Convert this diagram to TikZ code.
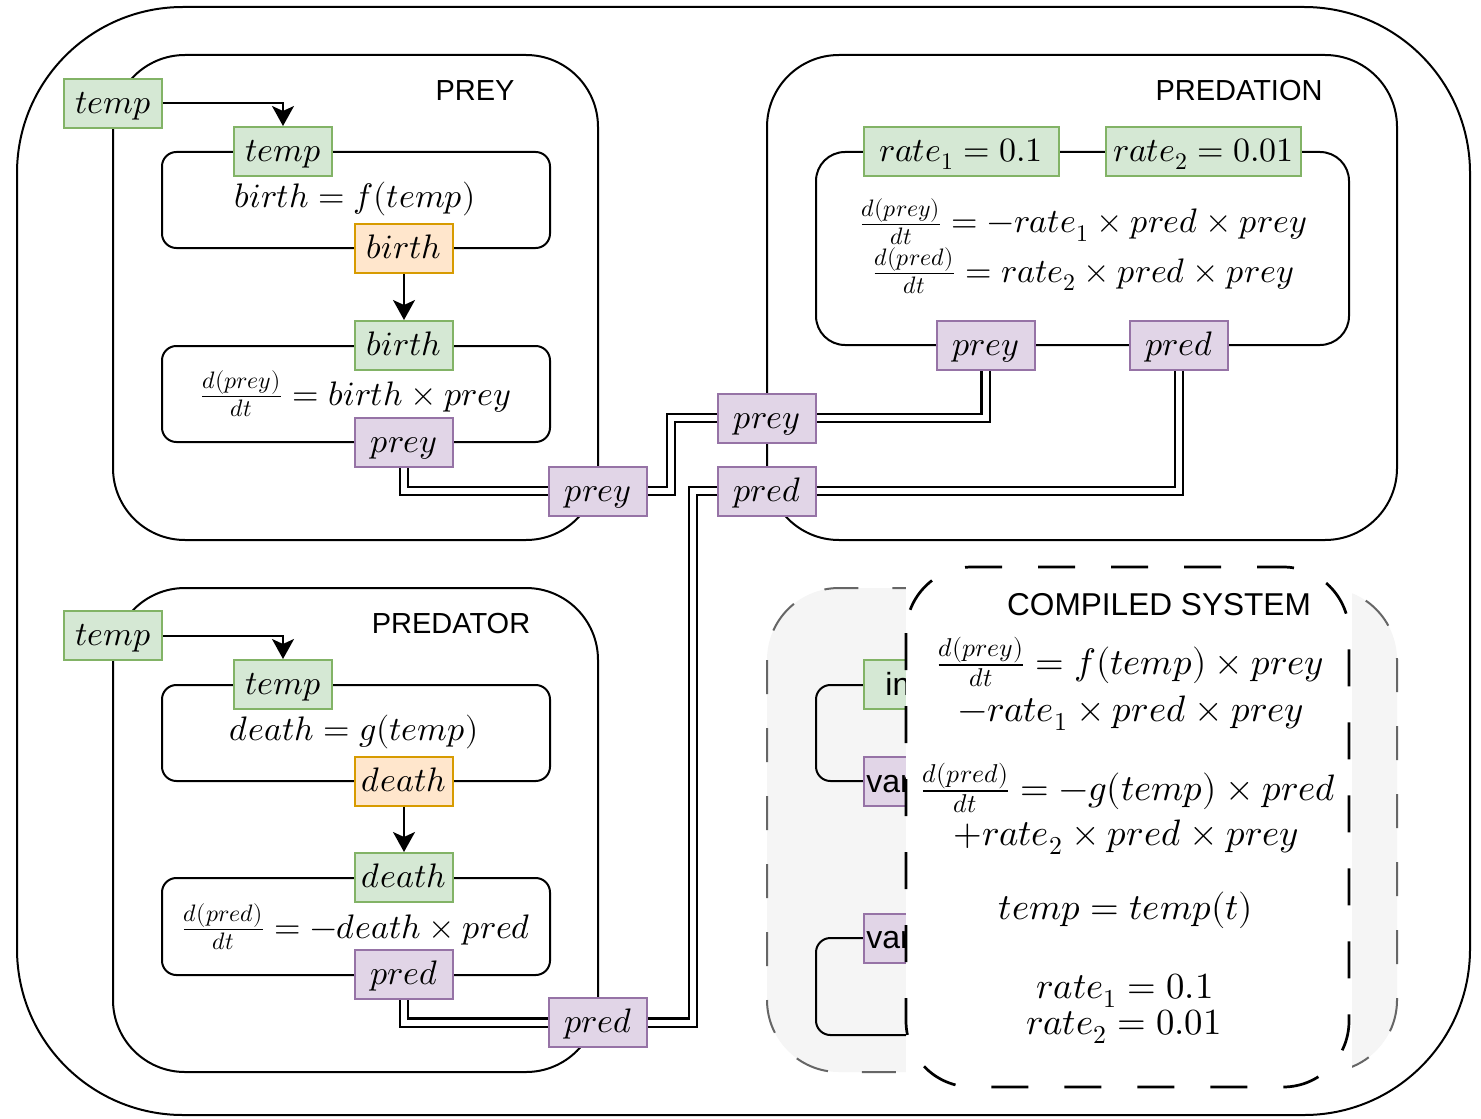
\documentclass[tikz,border=0pt]{standalone}
\usepackage{fontspec}
\usepackage{unicode-math}
\newfontfamily\lsans{Liberation Sans}
\usetikzlibrary{arrows.meta}

\definecolor{gfill}{HTML}{D5E8D4}
\definecolor{gline}{HTML}{82B366}
\definecolor{ofill}{HTML}{FFE6CC}
\definecolor{oline}{HTML}{D79B00}
\definecolor{vfill}{HTML}{E1D5E7}
\definecolor{vline}{HTML}{9673A6}
\definecolor{greyfill}{HTML}{F5F5F5}
\definecolor{greyline}{HTML}{666666}

\begin{document}
\begin{tikzpicture}[x=0.5pt,y=-0.5pt,
  boxline/.style={draw=black, line width=1pt},
  portbox/.style={draw, line width=1pt, minimum width=49pt, minimum height=24.5pt,
    inner sep=0pt, text height=11pt, text depth=1pt, font=\fontsize{17}{20}\selectfont},
  gport/.style={portbox, draw=gline, fill=gfill},
  oport/.style={portbox, draw=oline, fill=ofill},
  vport/.style={portbox, draw=vline, fill=vfill},
  dlink/.style={draw=black, line width=1.2pt, double=white, double distance=3pt},
  flow/.style={draw=black, line width=1pt, -{Stealth[length=10pt,width=11pt,inset=2.5pt]}},
  boxtitle/.style={inner sep=0pt, font=\lsans\fontsize{14.5}{17}\selectfont},
  eqn/.style={inner sep=0pt, anchor=base, font=\fontsize{17}{20}\selectfont},
  ceqn/.style={inner sep=0pt, anchor=base, font=\fontsize{18.4}{22}\selectfont},
  upper/.style={text depth=0pt},
  lower/.style={text height=9pt},
  hidden/.style={inner sep=0pt, anchor=base west, font=\lsans\fontsize{16}{19}\selectfont},
]
\useasboundingbox (0,0) rectangle (1481,1118);
\fill[white] (0,0) rectangle (1481,1118);

% outer system frame
\draw[boxline, rounded corners=83pt] (17,7) rectangle (1470,1115);

% modules
\draw[boxline, rounded corners=36pt] (113,55) rectangle (598,540);
\draw[boxline, rounded corners=36pt] (767,55) rectangle (1397,540);
\draw[boxline, rounded corners=36pt] (113,588) rectangle (598,1072);
\node[boxtitle] (tPrey) at (475,91) {PREY};
\node[boxtitle] (tPredation) at (1239,91) {PREDATION};
\node[boxtitle] (tPredator) at (451,624) {PREDATOR};

% component boxes
\draw[boxline, rounded corners=7.2pt] (162,152) rectangle (550,248);
\draw[boxline, rounded corners=7.2pt] (162,346) rectangle (550,442);
\draw[boxline, rounded corners=14.5pt] (816,152) rectangle (1349,345);
\draw[boxline, rounded corners=7.2pt] (162,685) rectangle (550,781);
\draw[boxline, rounded corners=7.2pt] (162,878) rectangle (550,975);

% equations
\node[eqn] (eqBirth) at (355,207) {$birth = f(temp)$};
\node[eqn] (eqPrey) at (355.5,405) {$\frac{d(prey)}{dt} = birth\times prey$};
\node[eqn, upper] (eqPdA) at (1083,233) {$\frac{d(prey)}{dt} = -rate_1\times pred\times prey$};
\node[eqn] (eqPdB) at (1083,282) {$\frac{d(pred)}{dt} = rate_2\times pred\times prey$};
\node[eqn] (eqDeath) at (354,740) {$death = g(temp)$};
\node[eqn] (eqPred) at (356,938) {$\frac{d(pred)}{dt} = -death\times pred$};

% ports: prey module
\node[gport] (tO1) at (113,103.5) {$temp$};
\node[gport] (tI1) at (283,151.5) {$temp$};
\node[oport] (bO) at (404,248.5) {$birth$};
\node[gport] (bI) at (404,345.5) {$birth$};
\node[vport] (pyO) at (404,442.5) {$prey$};
\node[vport] (pyP) at (598,491) {$prey$};

% ports: predation module
\node[gport, minimum width=97.5pt] (r1) at (961,151.5) {$rate_1 = 0.1$};
\node[gport, minimum width=97.5pt] (r2) at (1203.5,151.5) {$rate_2 = 0.01$};
\node[vport] (dPy) at (985.5,345.5) {$prey$};
\node[vport] (dPd) at (1179,345.5) {$pred$};
\node[vport] (xPy) at (767,418) {$prey$};
\node[vport] (xPd) at (767,491) {$pred$};

% ports: predator module
\node[gport] (tO2) at (113,635.5) {$temp$};
\node[gport] (tI2) at (283,684.5) {$temp$};
\node[oport] (dO) at (404,781) {$death$};
\node[gport] (dI) at (404,877.5) {$death$};
\node[vport] (pdO) at (404,974.5) {$pred$};
\node[vport] (pdP) at (598,1022.5) {$pred$};

% signal flow
\draw[flow] (tO1.east) -| (tI1.north);
\draw[flow] (bO.south) -- (bI.north);
\draw[flow] (tO2.east) -| (tI2.north);
\draw[flow] (dO.south) -- (dI.north);

% variable links
\draw[dlink] (pyO.south) |- (pyP.west);
\draw[dlink] (pyP.east) -- ++(23,0) |- (xPy.west);
\draw[dlink] (dPy.south) |- (xPy.east);
\draw[dlink] (dPd.south) |- (xPd.east);
\draw[dlink] (xPd.west) -- ++(-24,0) |- (pdP.east);
\draw[dlink] (pdO.south) |- (pdP.west);

% flattened system underneath
\draw[draw=greyline, fill=greyfill, line width=1pt, dash pattern=on 17pt off 17pt,
  rounded corners=36pt] (767,588) rectangle (1397,1072);
\draw[boxline, rounded corners=7.2pt] (816,685) rectangle (1204,781);
\draw[boxline, rounded corners=7.2pt] (816,938) rectangle (1204,1035);
\node[gport] (cIn) at (913,684.5) {};
\node[vport] (cV1) at (913,781.5) {};
\node[vport] (cV2) at (913,938) {};
\node[hidden] (lIn) at (885,695) {in};
\node[hidden] (lV1) at (866,792) {var};
\node[hidden] (lV2) at (866,948.5) {var};

% compiled system on top
\fill[white] (906,560) rectangle (1352,1093);
\draw[draw=black, fill=white, line width=1.35pt, dash pattern=on 18.5pt off 18pt,
  rounded corners=33pt] (906,567) rectangle (1349,1087);
\node[boxtitle, font=\lsans\fontsize{15.8}{19}\selectfont] (tCompiled) at (1159,605) {COMPILED SYSTEM};
\node[ceqn, upper] (c1) at (1130,674) {$\frac{d(prey)}{dt} = f(temp)\times prey$};
\node[ceqn, lower] (c2) at (1131,721) {$-rate_1\times pred\times prey$};
\node[ceqn, upper] (c3) at (1128,800) {$\frac{d(pred)}{dt} = -g(temp)\times pred$};
\node[ceqn, lower] (c4) at (1126,845) {$+rate_2\times pred\times prey$};
\node[ceqn] (c5) at (1126,919) {$temp = temp(t)$};
\node[ceqn] (c6) at (1125,998) {$rate_1 = 0.1$};
\node[ceqn] (c7) at (1124,1034) {$rate_2 = 0.01$};
\end{tikzpicture}
\end{document}
